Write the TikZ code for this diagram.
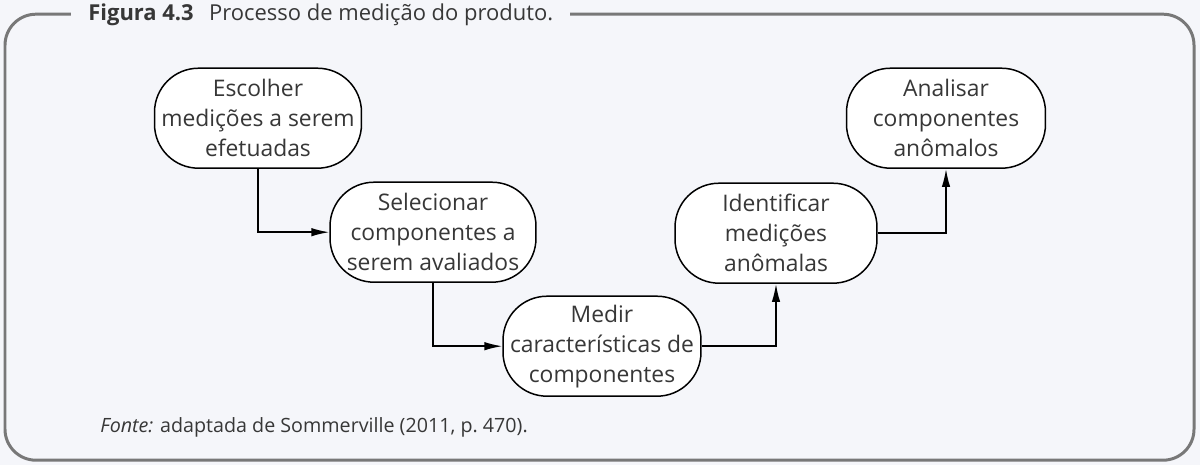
\documentclass[tikz,border=0pt]{standalone}
\usepackage{fontspec}
\setmainfont{Open Sans}
\usetikzlibrary{arrows.meta}
\definecolor{fundo}{RGB}{245,246,250}
\definecolor{moldura}{RGB}{120,120,120}
\definecolor{texto}{RGB}{55,55,55}

\begin{document}
  \begin{tikzpicture}[x=0.02cm,y=-0.02cm,
      passo/.style={draw, line width=0.85pt, fill=white, rounded corners=0.88cm,
        minimum width=4.1cm, minimum height=2cm, align=center, text=texto,
        inner sep=0pt, font=\fontsize{13}{17}\selectfont},
      seta/.style={line width=0.85pt, -{Latex[length=0.36cm,width=0.17cm]}}]
    % fundo e moldura
    \fill[fundo] (0,0) rectangle (1200,465);
    \draw[moldura, line width=1.7pt, rounded corners=0.62cm] (5,14) rectangle (1194,460);
    \node[anchor=base west, fill=fundo, inner xsep=0.34cm, inner ysep=2pt, text=texto,
      font=\fontsize{12.5}{15}\selectfont] (titulo) at (71,20)
      {\textbf{Figura 4.3}\hspace{0.7em}Processo de medição do produto.};
    % etapas
    \node[passo, minimum width=4.14cm] (escolher) at (258,118) {Escolher\\medições a serem\\efetuadas};
    \node[passo, minimum width=4.12cm] (selecionar) at (433,232) {Selecionar\\componentes a\\serem avaliados};
    \node[passo, minimum width=3.96cm] (medir) at (602,346) {Medir\\características de\\componentes};
    \node[passo, minimum width=4.04cm] (identificar) at (776,233) {Identificar\\medições\\anômalas};
    \node[passo, minimum width=3.98cm] (analisar) at (946,118) {Analisar\\componentes\\anômalos};
    % ligacoes
    \draw[seta] (escolher.south) |- (selecionar.west);
    \draw[seta] (selecionar.south) |- (medir.west);
    \draw[seta] (medir.east) -| (identificar.south);
    \draw[seta] (identificar.east) -| (analisar.south);
    \node[anchor=base west, text=texto, inner sep=0pt, font=\fontsize{11.2}{14}\selectfont] (fonte) at (100,432)
      {\textit{Fonte:} adaptada de Sommerville (2011, p.~470).};
  \end{tikzpicture}
\end{document}
